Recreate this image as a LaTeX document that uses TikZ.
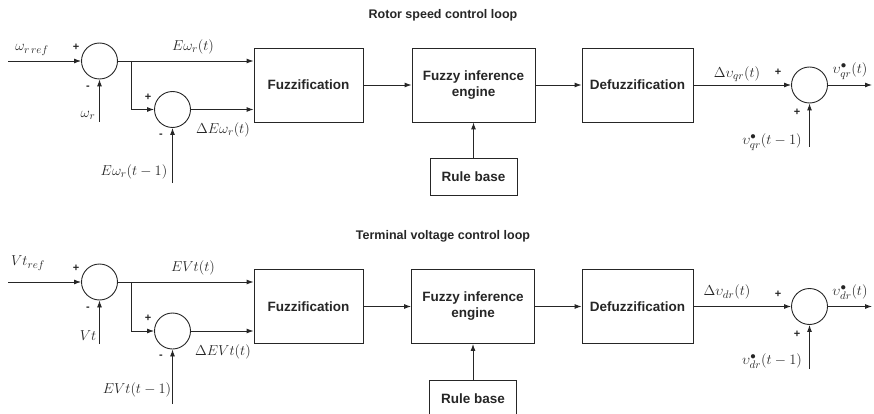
\documentclass[tikz,border=0pt]{standalone}
\usepackage{fontspec}
\setsansfont{Liberation Sans}
\usetikzlibrary{arrows.meta}
\tikzset{
  blk/.style={draw, line width=0.9pt, minimum width=#1, minimum height=74pt, inner sep=0pt, font=\fontsize{13.5}{16}\selectfont\sffamily\bfseries, align=center},
  rbox/.style={draw, line width=0.9pt, minimum width=87pt, minimum height=37pt, inner sep=0pt, font=\fontsize{13.5}{16}\selectfont\sffamily\bfseries},
  sumc/.style={draw, circle, line width=0.9pt, minimum size=36pt, inner sep=0pt},
  arr/.style={line width=0.9pt, -{Latex[length=7pt,width=5pt]}},
  ttl/.style={font=\fontsize{12.5}{14}\selectfont\sffamily\bfseries},
  lab/.style={font=\fontsize{15.5}{18}\selectfont, inner sep=0pt},
  sg/.style={font=\fontsize{11}{13}\selectfont\sffamily\bfseries, inner sep=0pt},
}
\begin{document}
\begin{tikzpicture}[x=1pt,y=-1pt, draw=black!85, text=black!85]
\useasboundingbox (0,0) rectangle (874,414);
% ---------------- Rotor speed loop ----------------
\node[ttl] (t1) at (443,15) {Rotor speed control loop};
\node[sumc] (a1) at (99.5,61) {};
\node[sumc] (a2) at (172.5,109.5) {};
\node[sumc] (a3) at (809.5,85) {};
\node[blk=109pt] (afz) at (308.5,85) {Fuzzification};
\node[blk=123pt] (afi) at (473.5,85) {Fuzzy inference\\engine};
\node[blk=111pt] (adf) at (637.5,85) {Defuzzification};
\node[rbox] (arb) at (473.5,176.5) {Rule base};
\coordinate (ain) at (8,61);
\coordinate (abr) at (131,61);
\coordinate (awr) at (99.5,122);
\coordinate (aem) at (172.5,183);
\coordinate (aout) at (872,85);
\coordinate (avm) at (809.5,147);
\draw[arr] (ain) -- (a1);
\draw[arr] (awr) -- (a1);
\draw[arr] (a1) -- (afz.west |- a1);
\draw[arr] (abr) |- (a2);
\draw[arr] (aem) -- (a2);
\draw[arr] (a2) -- (afz.west |- a2);
\draw[arr] (afz) -- (afi);
\draw[arr] (afi) -- (adf);
\draw[arr] (arb) -- (afi);
\draw[arr] (adf) -- (a3);
\draw[arr] (avm) -- (a3);
\draw[arr] (a3) -- (aout);
\node[lab] (l1) at (32,50) {$\omega_{r\,ref}$};
\node[sg] (p1) at (76,47) {+};
\node[sg] (m1) at (88,88) {-};
\node[lab] (l2) at (88,115) {$\omega_r$};
\node[sg] (p2) at (148,97) {+};
\node[sg] (m2) at (161,136) {-};
\node[lab] (l3) at (134,172) {$E\omega_r(t-1)$};
\node[lab] (l4) at (193,47) {$E\omega_r(t)$};
\node[lab] (l5) at (223,130) {$\Delta E\omega_r(t)$};
\node[lab] (l6) at (737,74) {$\Delta \upsilon_{qr}(t)$};
\node[sg] (p3) at (778,72) {+};
\node[lab] (l7) at (850,71) {$\upsilon^{\bullet}_{qr}(t)$};
\node[sg] (p4) at (797,112) {+};
\node[lab] (l8) at (772,142) {$\upsilon^{\bullet}_{qr}(t-1)$};
% ---------------- Terminal voltage loop ----------------
\node[ttl] (t2) at (443,236) {Terminal voltage control loop};
\node[sumc] (b1) at (99.5,282) {};
\node[sumc] (b2) at (172.5,331) {};
\node[sumc] (b3) at (809.5,306.5) {};
\node[blk=109pt] (bfz) at (308.5,306.5) {Fuzzification};
\node[blk=123pt] (bfi) at (473,306.5) {Fuzzy inference\\engine};
\node[blk=111pt] (bdf) at (637.5,306.5) {Defuzzification};
\node[rbox] (brb) at (473,398.5) {Rule base};
\coordinate (bin) at (8,282);
\coordinate (bbr) at (131,282);
\coordinate (bwr) at (99.5,344);
\coordinate (bem) at (172.5,404);
\coordinate (bout) at (872,306.5);
\coordinate (bvm) at (809.5,369);
\draw[arr] (bin) -- (b1);
\draw[arr] (bwr) -- (b1);
\draw[arr] (b1) -- (bfz.west |- b1);
\draw[arr] (bbr) |- (b2);
\draw[arr] (bem) -- (b2);
\draw[arr] (b2) -- (bfz.west |- b2);
\draw[arr] (bfz) -- (bfi);
\draw[arr] (bfi) -- (bdf);
\draw[arr] (brb) -- (bfi);
\draw[arr] (bdf) -- (b3);
\draw[arr] (bvm) -- (b3);
\draw[arr] (b3) -- (bout);
\node[lab] (k1) at (28,263) {$Vt_{ref}$};
\node[sg] (q1) at (76,268) {+};
\node[sg] (n1) at (88,309) {-};
\node[lab] (k2) at (88,336) {$Vt$};
\node[sg] (q2) at (148,318) {+};
\node[sg] (n2) at (161,357) {-};
\node[lab] (k3) at (137,390) {$EVt(t-1)$};
\node[lab] (k4) at (193,268) {$EVt(t)$};
\node[lab] (k5) at (223,352) {$\Delta EVt(t)$};
\node[lab] (k6) at (727,292) {$\Delta \upsilon_{dr}(t)$};
\node[sg] (q3) at (778,294) {+};
\node[lab] (k7) at (850,292) {$\upsilon^{\bullet}_{dr}(t)$};
\node[sg] (q4) at (797,334) {+};
\node[lab] (k8) at (772,361) {$\upsilon^{\bullet}_{dr}(t-1)$};
\end{tikzpicture}
\end{document}
